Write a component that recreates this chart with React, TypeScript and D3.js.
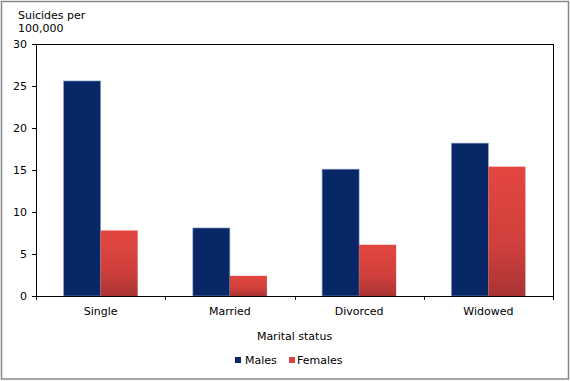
import React, { useEffect } from "react";
import * as d3 from "d3";

const categories = ["Single", "Married", "Divorced", "Widowed"];
const seriesNames = ["Males", "Females"];
const males = [25.6, 8.1, 15.1, 18.2];
const females = [7.8, 2.4, 6.1, 15.4];
const yTicks = [0, 5, 10, 15, 20, 25, 30];

const W = 570;
const H = 381;
const M = { left: 36, right: 553, top: 44, bottom: 296 };
const FONT = "Verdana, 'DejaVu Sans', sans-serif";
const FS = 11;

export default function App() {
  useEffect(() => {
    document.body.style.margin = "0";
  }, []);

  const x = d3.scaleBand<string>().domain(categories).range([M.left, M.right]).paddingInner(0).paddingOuter(0);
  const inner = d3.scaleBand<string>().domain(seriesNames).range([0, x.bandwidth()]).paddingInner(0).paddingOuter(0.745);
  const y = d3.scaleLinear().domain([0, 30]).range([M.bottom, M.top]);
  const colors: Record<string, string> = { Males: "#072766", Females: "url(#fgrad)" };
  const series = [
    { name: "Males", values: males },
    { name: "Females", values: females },
  ];
  const boundaries = d3.range(categories.length + 1).map((i) => M.left + i * x.step());

  return (
    <svg width={W} height={H} style={{ display: "block", fontFamily: FONT }}>
      <defs>
        <linearGradient id="fgrad" x1="0" y1="0" x2="0" y2="1">
          <stop offset="0%" stopColor="#e34641" />
          <stop offset="60%" stopColor="#d0403c" />
          <stop offset="100%" stopColor="#a93434" />
        </linearGradient>
      </defs>
      <rect x={0} y={0} width={W} height={H} fill="#fff" />
      <rect x={1.5} y={1.5} width={567} height={377.5} fill="none" stroke="#888" strokeWidth={1.5} />
      <text x={18} y={19} fontSize={FS} fill="#000">Suicides per</text>
      <text x={18} y={32} fontSize={FS} fill="#000">100,000</text>

      {series.map((s) =>
        s.values.map((v, i) => {
          const bx = (x(categories[i]) as number) + (inner(s.name) as number);
          const bw = inner.bandwidth();
          return (
            <rect
              key={s.name + i}
              x={bx}
              y={y(v)}
              width={bw}
              height={M.bottom - y(v)}
              fill={colors[s.name]}
              stroke={s.name === "Males" ? "#8fa3c8" : "none"}
              strokeWidth={s.name === "Males" ? 0.6 : 0}
            />
          );
        })
      )}

      {/* plot frame */}
      <line x1={M.left + 0.5} y1={M.top} x2={M.left + 0.5} y2={M.bottom} stroke="#000" />
      <line x1={M.left} y1={M.top + 0.5} x2={M.right + 0.5} y2={M.top + 0.5} stroke="#000" />
      <line x1={M.right + 0.5} y1={M.top} x2={M.right + 0.5} y2={M.bottom + 4} stroke="#000" />
      <line x1={M.left} y1={M.bottom + 0.5} x2={M.right + 0.5} y2={M.bottom + 0.5} stroke="#000" />

      {yTicks.map((t) => (
        <g key={t}>
          <line x1={M.left - 4} x2={M.left} y1={Math.round(y(t)) + 0.5} y2={Math.round(y(t)) + 0.5} stroke="#000" />
          <text x={27} y={y(t) + 4} fontSize={FS} textAnchor="end" fill="#000">{t}</text>
        </g>
      ))}
      {boundaries.map((b, i) => (
        <line key={i} x1={Math.round(b) + 0.5} x2={Math.round(b) + 0.5} y1={M.bottom} y2={M.bottom + 4} stroke="#000" />
      ))}
      {categories.map((c) => (
        <text key={c} x={(x(c) as number) + x.bandwidth() / 2} y={315} fontSize={FS} textAnchor="middle" fill="#000">{c}</text>
      ))}
      <text x={(M.left + M.right) / 2} y={340} fontSize={FS} textAnchor="middle" fill="#000">Marital status</text>

      <g>
        <rect x={235} y={357} width={6} height={6} fill="#072766" />
        <text x={245} y={364} fontSize={FS} fill="#000">{seriesNames[0]}</text>
        <rect x={289} y={357} width={6} height={6} fill="#d8443f" />
        <text x={297} y={364} fontSize={FS} fill="#000">{seriesNames[1]}</text>
      </g>
    </svg>
  );
}
